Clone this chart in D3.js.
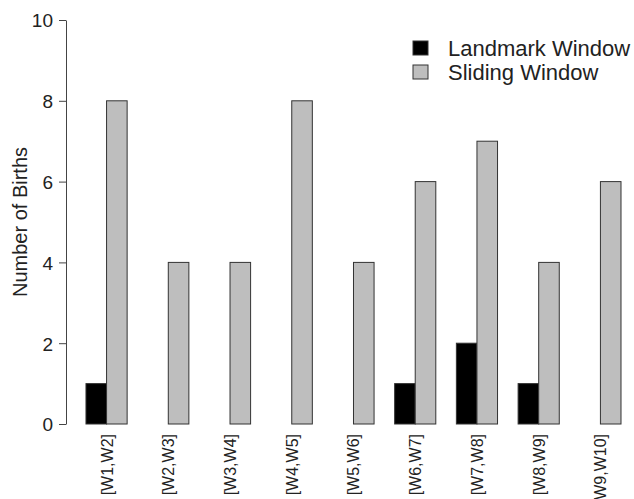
<!DOCTYPE html>
<html>
<head>
<meta charset="utf-8">
<script src="https://cdn.jsdelivr.net/npm/d3@7"></script>
<style>
  html, body { margin: 0; padding: 0; background: #fff; }
  svg { display: block; font-family: "Liberation Sans", Arial, sans-serif; }
</style>
</head>
<body>
<svg id="chart" width="634" height="499"></svg>
<script>
// Births per window pair, landmark vs sliding window
const windows = ["[W1,W2]", "[W2,W3]", "[W3,W4]", "[W4,W5]", "[W5,W6]", "[W6,W7]", "[W7,W8]", "[W8,W9]", "[W9,W10]"];
const seriesNames = ["Landmark Window", "Sliding Window"];
const landmark = [1, 0, 0, 0, 0, 1, 2, 1, 0];
const sliding = [8, 4, 4, 8, 4, 6, 7, 4, 6];
const yTicks = [0, 2, 4, 6, 8, 10];
const fills = ["#000000", "#bebebe"];

const svg = d3.select("#chart");

const x = d3.scaleBand()
  .domain(windows)
  .range([65.4, 621])
  .paddingInner(1 / 3)
  .paddingOuter(1 / 6)
  .align(1);

const xs = d3.scaleBand()
  .domain(seriesNames)
  .range([0, x.bandwidth()]);

const y = d3.scaleLinear().domain([0, 10]).range([424, 20]);

// bars
const rows = windows.map((w, i) => ({ w, vals: [landmark[i], sliding[i]] }));
const groups = svg.append("g").selectAll("g")
  .data(rows).join("g")
  .attr("transform", d => `translate(${x(d.w)},0)`);

groups.selectAll("rect")
  .data(d => d.vals.map((v, k) => ({ v, k })))
  .join("rect")
  .attr("x", d => xs(seriesNames[d.k]))
  .attr("y", d => y(d.v))
  .attr("width", xs.bandwidth())
  .attr("height", d => y(0) - y(d.v))
  .attr("fill", d => fills[d.k])
  .attr("stroke", "#333")
  .attr("stroke-width", 1);

// y axis
const yAxis = svg.append("g")
  .attr("transform", "translate(66,0)")
  .call(d3.axisLeft(y).tickValues(yTicks).tickSize(7).tickPadding(6).tickSizeOuter(0));
yAxis.select(".domain").attr("stroke", "#444");
yAxis.selectAll(".tick line").attr("stroke", "#444");
yAxis.selectAll("text")
  .attr("font-size", 19)
  .attr("fill", "#222")
  .attr("dy", "0.36em")
  .attr("font-family", "Liberation Sans, Arial, sans-serif");

// axis title
svg.append("text")
  .attr("transform", `translate(27,${(y(0) + y(10)) / 2}) rotate(-90)`)
  .attr("text-anchor", "middle")
  .attr("font-size", 20)
  .attr("fill", "#222")
  .text("Number of Births");

// x labels, vertical, ending just below the axis
svg.append("g").selectAll("text")
  .data(windows).join("text")
  .attr("transform", d => `translate(${x(d) + x.bandwidth() / 2 + 6},434) rotate(-90)`)
  .attr("text-anchor", "end")
  .attr("font-size", 16)
  .attr("fill", "#222")
  .text(d => d);

// legend
const legend = svg.append("g").attr("transform", "translate(413,41)");
seriesNames.forEach((name, k) => {
  const g = legend.append("g").attr("transform", `translate(0,${k * 24})`);
  g.append("rect")
    .attr("width", 15).attr("height", 14)
    .attr("fill", fills[k]).attr("stroke", "#333");
  g.append("text")
    .attr("x", 35).attr("y", 7).attr("dy", "0.35em")
    .attr("font-size", 22)
    .attr("fill", "#222")
    .text(name);
});
</script>
</body>
</html>
